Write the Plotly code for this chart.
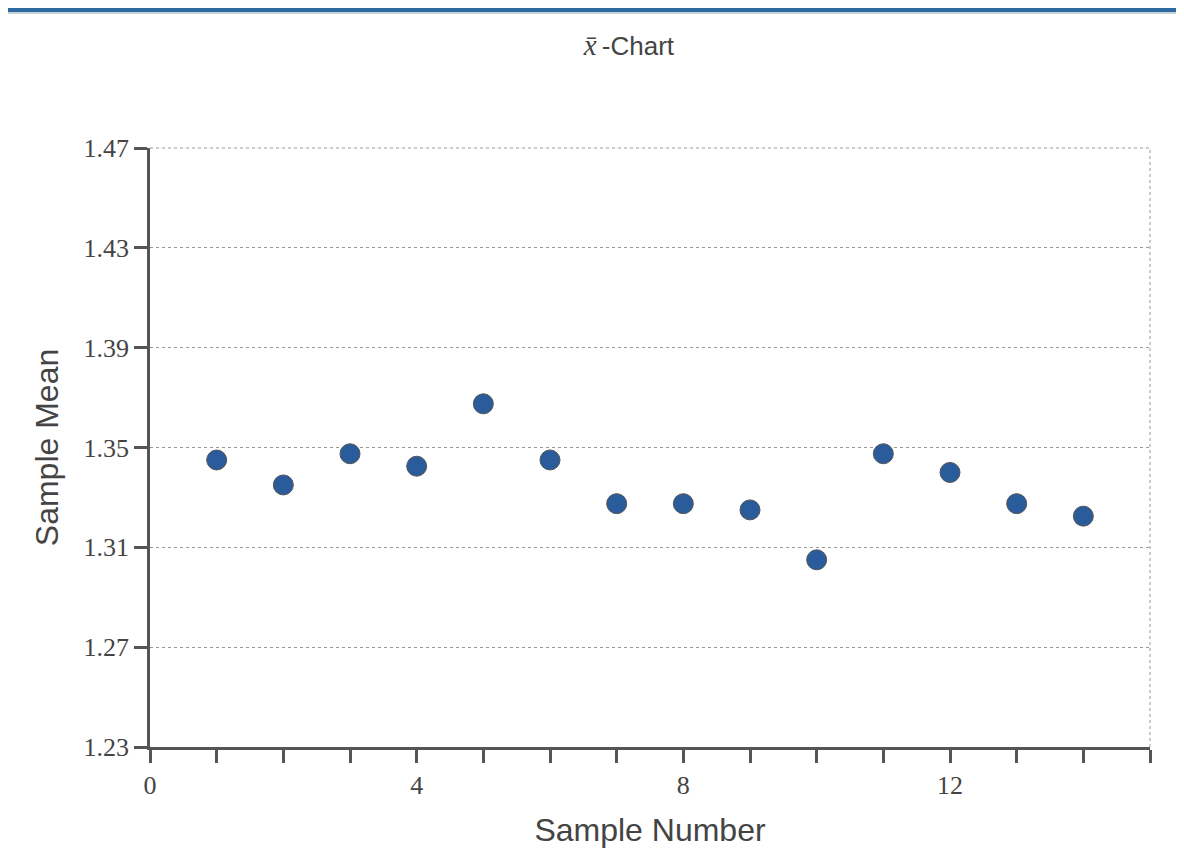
import plotly.graph_objects as go

sample_number = [1, 2, 3, 4, 5, 6, 7, 8, 9, 10, 11, 12, 13, 14]
sample_mean = [1.345, 1.335, 1.3475, 1.3425, 1.3675, 1.345, 1.3275, 1.3275,
               1.325, 1.305, 1.3475, 1.340, 1.3275, 1.3225]
y_ticks = [1.23, 1.27, 1.31, 1.35, 1.39, 1.43, 1.47]
x_ticks = list(range(0, 16))
x_labels = [str(v) if v % 4 == 0 and v < 15 else "" for v in x_ticks]

SANS = "Liberation Sans, Arial, Helvetica, sans-serif"
SERIF = "Liberation Serif, Times New Roman, serif"

fig = go.Figure()
fig.add_trace(go.Scatter(
    x=sample_number, y=sample_mean, mode="markers",
    marker=dict(size=20, color="#2a5b9a", line=dict(color="#555555", width=1)),
    hoverinfo="x+y", showlegend=False,
))

axis_common = dict(
    showline=True, linecolor="#555555", linewidth=2.5,
    ticks="outside", ticklen=13, tickwidth=2.5, tickcolor="#555555",
    tickfont=dict(family=SERIF, size=26, color="#444444"),
    zeroline=False,
)

fig.update_layout(
    width=1176, height=856,
    paper_bgcolor="white", plot_bgcolor="white",
    margin=dict(l=142, r=34, t=140, b=117),
    title=dict(
        text="<span style='font-family:Liberation Serif;font-size:29px'><i>x\u0304</i></span>\u2009-Chart",
        font=dict(family=SANS, size=26, color="#444444"),
        x=0.528, xref="container", xanchor="center",
        y=1 - 38 / 856, yref="container", yanchor="middle",
    ),
    xaxis=dict(
        range=[0, 15], tickvals=x_ticks, ticktext=x_labels,
        showgrid=False,
        title=dict(text="Sample Number", standoff=20,
                   font=dict(family=SANS, size=32, color="#444444")),
        **axis_common,
    ),
    yaxis=dict(
        range=[1.23, 1.47], tickvals=y_ticks, tickformat=".2f",
        showgrid=True, gridcolor="#999999", griddash="dot", gridwidth=1,
        title=dict(text="Sample Mean", standoff=16,
                   font=dict(family=SANS, size=32, color="#444444")),
        **axis_common,
    ),
    shapes=[
        dict(type="line", xref="paper", yref="paper", x0=1, x1=1, y0=0, y1=1,
             line=dict(color="#999999", width=1, dash="dot"), layer="below"),
        dict(type="line", xref="paper", yref="paper", x0=0, x1=1, y0=1, y1=1,
             line=dict(color="#999999", width=1, dash="dot"), layer="below"),
        dict(type="rect", xref="paper", yref="paper", x0=-0.2, x1=1.1,
             y0=1 + 136 / 599, y1=1 + 141 / 599,
             line=dict(width=0), fillcolor="#2d6aa0"),
        dict(type="rect", xref="paper", yref="paper", x0=-0.2, x1=1.1,
             y0=1 + 134 / 599, y1=1 + 136 / 599,
             line=dict(width=0), fillcolor="#c8d3da"),
    ],
)

fig.write_html("out.html")
